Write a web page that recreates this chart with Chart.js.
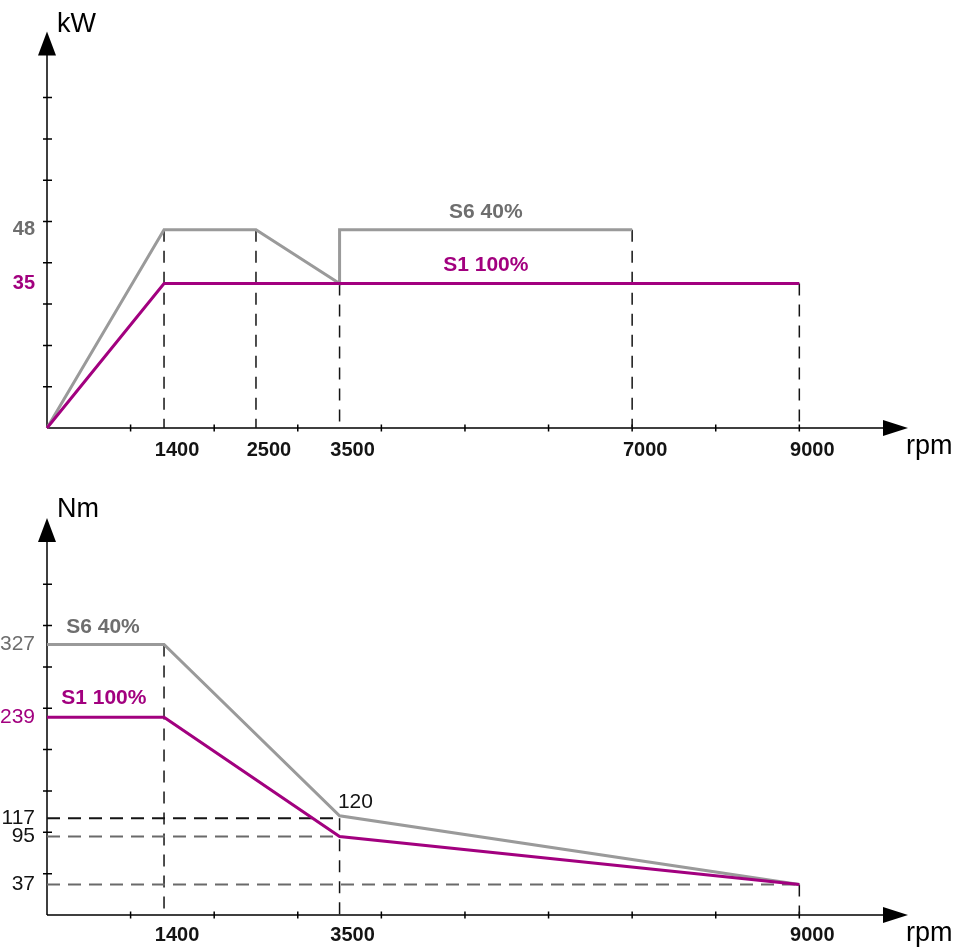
<!DOCTYPE html>
<html>
<head>
<meta charset="utf-8">
<script src="https://cdn.jsdelivr.net/npm/chart.js@4.4.1/dist/chart.umd.min.js"></script>
<style>
  html, body { margin: 0; padding: 0; background: #fff; }
  .box { width: 962px; height: 474px; position: relative; }
</style>
</head>
<body>
<div class="box"><canvas id="powerChart" width="962" height="474"></canvas></div>
<div class="box"><canvas id="torqueChart" width="962" height="474"></canvas></div>
<script>
// ---- values ----
const rpmTicks = [1000, 2000, 3000, 4000, 5000, 6000, 7000, 8000, 9000];

// power (kW)
const kwTicks = [10, 20, 30, 40, 50, 60, 70, 80];
const kwRpmLabels = [1400, 2500, 3500, 7000, 9000];
const kwValueLabels = [48, 35];
const kwS6Rpm = [0, 1400, 2500, 3500, 3500, 7000];
const kwS6 = [0, 48, 48, 35, 48, 48];
const kwS1Rpm = [0, 1400, 9000];
const kwS1 = [0, 35, 35];
const kwGuideRpm = [1400, 2500, 3500, 7000, 9000];
const kwGuideTop = [48, 48, 35, 48, 35];

// torque (Nm)
const nmTicks = [50, 100, 150, 200, 250, 300, 350, 400];
const nmRpmLabels = [1400, 3500, 9000];
const nmValueLabels = [327, 239, 117, 95, 37];
const nmS6Rpm = [0, 1400, 3500, 9000];
const nmS6 = [327, 327, 120, 37];
const nmS1Rpm = [0, 1400, 3500, 9000];
const nmS1 = [239, 239, 95, 37];
const nmGuideRpm = [1400, 3500, 9000];
const nmGuideTop = [327, 117, 37];
const nmLevels = [117, 95, 37];
const nmLevelEnd = [3500, 3500, 9000];

const FONT = "'Liberation Sans', Arial, sans-serif";
const GRAY = "#9a9a9a";
const GRAY_TXT = "#6e6e6e";
const MAGENTA = "#a2007f";
const INK = "#141414";

const pts = (xs, ys) => xs.map((x, i) => ({ x, y: ys[i] }));

function lineSet(data, color, width, dash) {
  return {
    data, showLine: true, borderColor: color, backgroundColor: color,
    borderWidth: width, borderDash: dash || [], pointRadius: 0,
    tension: 0, clip: false
  };
}

// axes with arrow heads + crossing tick marks, and the free text labels
const arrowAxes = {
  id: "arrowAxes",
  beforeDatasetsDraw(chart, args, opts) {
    const { ctx, chartArea: a, scales: { x, y } } = chart;
    const ox = x.getPixelForValue(0), oy = y.getPixelForValue(0);
    ctx.save();
    ctx.strokeStyle = "#000";
    ctx.lineWidth = 1.5;
    ctx.beginPath();
    ctx.moveTo(ox, oy); ctx.lineTo(a.right - 20, oy);
    ctx.moveTo(ox, oy); ctx.lineTo(ox, a.top + 20);
    opts.xTicks.forEach(v => {
      const px = x.getPixelForValue(v);
      ctx.moveTo(px, oy - 3.5); ctx.lineTo(px, oy + 3.5);
    });
    opts.yTicks.forEach(v => {
      const py = y.getPixelForValue(v);
      ctx.moveTo(ox - 4, py); ctx.lineTo(ox + 5, py);
    });
    ctx.stroke();
    ctx.fillStyle = "#000";
    ctx.beginPath();
    ctx.moveTo(a.right, oy); ctx.lineTo(a.right - 25, oy - 8); ctx.lineTo(a.right - 25, oy + 8);
    ctx.closePath(); ctx.fill();
    ctx.beginPath();
    ctx.moveTo(ox, a.top); ctx.lineTo(ox - 9, a.top + 24); ctx.lineTo(ox + 9, a.top + 24);
    ctx.closePath(); ctx.fill();
    ctx.restore();
  },
  afterDraw(chart, args, opts) {
    const { ctx, chartArea: a, scales: { x, y } } = chart;
    ctx.save();
    ctx.fillStyle = "#000";
    ctx.font = "27px " + FONT;
    ctx.textAlign = "left";
    ctx.textBaseline = "alphabetic";
    ctx.fillText(opts.yTitle, x.getPixelForValue(0) + 10, opts.yTitleBase);
    ctx.fillText("rpm", a.right - 2, y.getPixelForValue(0) + opts.rpmDrop);
    ctx.textAlign = "center";
    ctx.textBaseline = "middle";
    opts.notes.forEach((t, i) => {
      ctx.fillStyle = opts.noteColors[i];
      ctx.font = opts.noteFonts[i] + " " + FONT;
      ctx.fillText(t, x.getPixelForValue(opts.noteRpm[i]), y.getPixelForValue(opts.noteVal[i]) - opts.noteLift[i]);
    });
    ctx.restore();
  }
};

function buildChart(id, cfg) {
  return new Chart(document.getElementById(id), {
    type: "scatter",
    data: { datasets: cfg.datasets },
    plugins: [arrowAxes],
    options: {
      responsive: false,
      animation: false,
      events: [],
      layout: { padding: cfg.padding },
      scales: {
        x: {
          type: "linear", min: 0, max: 10300,
          afterBuildTicks: s => { s.ticks = cfg.xLabels.map(v => ({ value: v })); },
          afterFit: s => { s.height = cfg.xAxisH; },
          grid: { display: false, drawTicks: false },
          border: { display: false },
          ticks: {
            autoSkip: false, maxRotation: 0, labelOffset: 13, padding: cfg.xPad,
            color: INK, font: { family: FONT, size: 20, weight: "bold" },
            callback: v => String(v)
          }
        },
        y: {
          type: "linear", min: 0, max: cfg.yMax,
          afterBuildTicks: s => { s.ticks = cfg.yLabels.map(v => ({ value: v })); },
          afterFit: s => { s.width = 47; },
          grid: { display: false, drawTicks: false },
          border: { display: false },
          ticks: {
            autoSkip: false, padding: 12,
            color: c => cfg.yLabelColors[c.index],
            font: { family: FONT, size: cfg.ySize, weight: cfg.yWeight },
            callback: v => String(v)
          }
        }
      },
      plugins: {
        legend: { display: false },
        tooltip: { enabled: false },
        arrowAxes: cfg.axes
      }
    }
  });
}

// ---- power chart ----
const kwGuides = kwGuideRpm.map((r, i) =>
  lineSet(pts([r, r], [kwGuideTop[i], 0]), INK, 1.5, [12, 9]));

buildChart("powerChart", {
  padding: { left: 0, right: 54, top: 31.5, bottom: 0 },
  xAxisH: 46, xPad: 10, yMax: 96,
  xLabels: kwRpmLabels, yLabels: kwValueLabels,
  yLabelColors: [GRAY_TXT, MAGENTA], yWeight: "bold", ySize: 20,
  datasets: [
    lineSet(pts(kwS1Rpm, kwS1), MAGENTA, 3),
    lineSet(pts(kwS6Rpm, kwS6), GRAY, 3),
    ...kwGuides
  ],
  axes: {
    xTicks: rpmTicks, yTicks: kwTicks,
    yTitle: "kW", yTitleBase: 32, rpmDrop: 26,
    notes: ["S6 40%", "S1 100%"],
    noteRpm: [5250, 5250],
    noteVal: [48, 35],
    noteLift: [18, 18],
    noteColors: [GRAY_TXT, MAGENTA],
    noteFonts: ["bold 21px", "bold 21px"]
  }
});

// ---- torque chart ----
const nmGuides = nmGuideRpm.map((r, i) =>
  lineSet(pts([r, r], [nmGuideTop[i], 0]), INK, 1.5, [12, 9]));
const nmLevelLines = nmLevels.map((v, i) =>
  lineSet(pts([0, nmLevelEnd[i]], [v, v]), i === 0 ? INK : "#6a6a6a", 2, [13, 8]));

buildChart("torqueChart", {
  padding: { left: 0, right: 54, top: 44, bottom: 0 },
  xAxisH: 33, xPad: 8, yMax: 480,
  xLabels: nmRpmLabels, yLabels: nmValueLabels,
  yLabelColors: [GRAY_TXT, MAGENTA, INK, INK, INK], yWeight: "normal", ySize: 21,
  datasets: [
    lineSet(pts(nmS1Rpm, nmS1), MAGENTA, 3),
    lineSet(pts(nmS6Rpm, nmS6), GRAY, 3),
    ...nmLevelLines,
    ...nmGuides
  ],
  axes: {
    xTicks: rpmTicks, yTicks: nmTicks,
    yTitle: "Nm", yTitleBase: 43, rpmDrop: 26,
    notes: ["S6 40%", "S1 100%", "120"],
    noteRpm: [670, 680, 3690],
    noteVal: [327, 239, 120],
    noteLift: [17, 19, 14],
    noteColors: [GRAY_TXT, MAGENTA, INK],
    noteFonts: ["bold 21px", "bold 21px", "21px"]
  }
});
</script>
</body>
</html>
